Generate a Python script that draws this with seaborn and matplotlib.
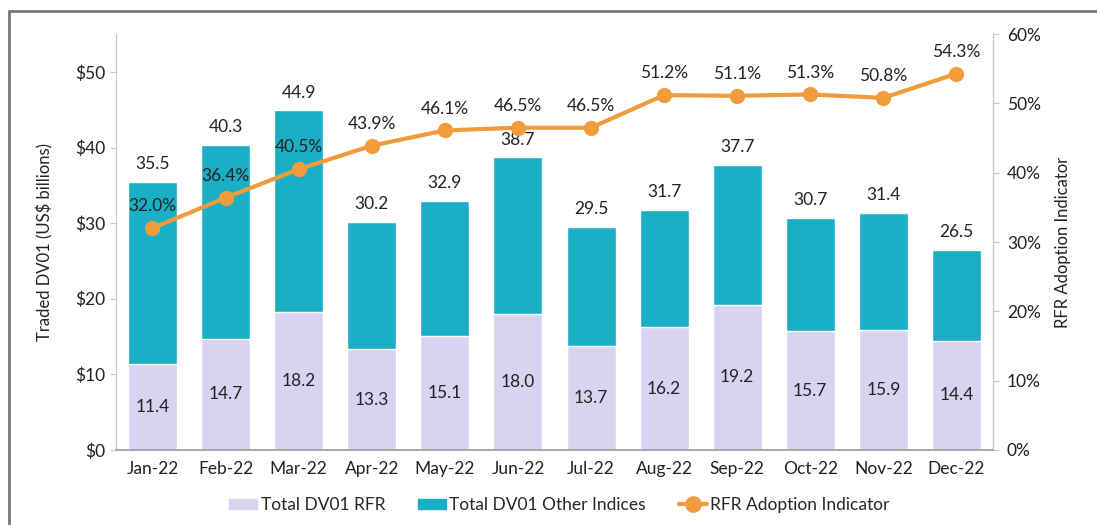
import numpy as np
import pandas as pd
import matplotlib
matplotlib.use("Agg")
import matplotlib.pyplot as plt
from matplotlib.patches import Rectangle, Patch
from matplotlib.lines import Line2D
import seaborn as sns

months = ["Jan-22", "Feb-22", "Mar-22", "Apr-22", "May-22", "Jun-22",
          "Jul-22", "Aug-22", "Sep-22", "Oct-22", "Nov-22", "Dec-22"]
rfr_dv01 = [11.4, 14.7, 18.2, 13.3, 15.1, 18.0, 13.7, 16.2, 19.2, 15.7, 15.9, 14.4]
total_dv01 = [35.5, 40.3, 44.9, 30.2, 32.9, 38.7, 29.5, 31.7, 37.7, 30.7, 31.4, 26.5]
adoption_pct = [32.0, 36.4, 40.5, 43.9, 46.1, 46.5, 46.5, 51.2, 51.1, 51.3, 50.8, 54.3]

teal = "#1BAFC5"
lavender = "#D6D4F1"
orange = "#F09B3C"
txt = "#222222"
spine_col = "#C8C8C8"

sns.set_style("white")
plt.rcParams["font.family"] = ["Lato", "DejaVu Sans"]

df = pd.DataFrame({"month": months, "rfr": rfr_dv01, "total": total_dv01, "pct": adoption_pct})

fig = plt.figure(figsize=(10.97, 5.25), dpi=100)
ax = fig.add_axes([0.1057, 0.143, 0.7995, 0.792])

# stacked bars: total first, RFR drawn over it
sns.barplot(data=df, x="month", y="total", color=teal, width=0.67, saturation=1, ax=ax)
sns.barplot(data=df, x="month", y="rfr", color=lavender, width=0.67, saturation=1, ax=ax)

ax.set_ylim(0, 55)
ax.set_yticks([0, 10, 20, 30, 40, 50])
ax.set_yticklabels([f"${v}" for v in [0, 10, 20, 30, 40, 50]])
ax.set_xlim(-0.5, 11.5)
ax.set_xlabel("")
ax.set_ylabel("Traded DV01 (US$ billions)", fontsize=12, color=txt, labelpad=16)
ax.tick_params(axis="both", labelsize=12.5, colors=txt, length=4, width=0.8)
ax.tick_params(axis="y", color=spine_col)
ax.tick_params(axis="x", length=0, pad=8)

for i, (r, t) in enumerate(zip(rfr_dv01, total_dv01)):
    ax.text(i, t + 1.3, f"{t:.1f}", ha="center", va="bottom", fontsize=12.5, color=txt)
    ax.text(i, r / 2, f"{r:.1f}", ha="center", va="center", fontsize=12.5, color=txt)

ax2 = ax.twinx()
sns.lineplot(x=np.arange(len(months)), y=adoption_pct, color=orange, linewidth=3,
             marker="o", markersize=11, markeredgewidth=0, ax=ax2)
ax2.set_ylim(0, 60)
ax2.set_yticks(np.arange(0, 61, 10))
ax2.set_yticklabels([f"{v}%" for v in range(0, 61, 10)])
ax2.set_ylabel("RFR Adoption Indicator", fontsize=12, color=txt, labelpad=10)
ax2.tick_params(axis="y", labelsize=12.5, colors=txt, length=4, width=0.8, color=spine_col, pad=6)
for i, p in enumerate(adoption_pct):
    ax2.text(i, p + 2.0, f"{p:.1f}%", ha="center", va="bottom", fontsize=12.5, color=txt)

for a in (ax, ax2):
    a.spines["top"].set_visible(False)
    a.spines["left"].set_color(spine_col)
    a.spines["right"].set_color(spine_col)
    a.spines["bottom"].set_color("#A8A8A8")
    a.spines["bottom"].set_linewidth(1.2)

handles = [Patch(color=lavender, label="Total DV01 RFR"),
           Patch(color=teal, label="Total DV01 Other Indices"),
           Line2D([], [], color=orange, linewidth=3, marker="o", markersize=11,
                  label="RFR Adoption Indicator")]
fig.legend(handles=handles, loc="center", bbox_to_anchor=(0.51, 0.038), ncol=3,
           frameon=False, fontsize=12.5, handlelength=1.6, handleheight=0.5,
           handletextpad=0.2, columnspacing=1.9)

# outer frame of the panel
fig.patches.append(Rectangle((9 / 1097, -0.1), 1.2, (525 - 11) / 525 + 0.1,
                             transform=fig.transFigure, fill=False,
                             edgecolor="#7A7A7A", linewidth=2))

fig.savefig("out.png", dpi=100)
